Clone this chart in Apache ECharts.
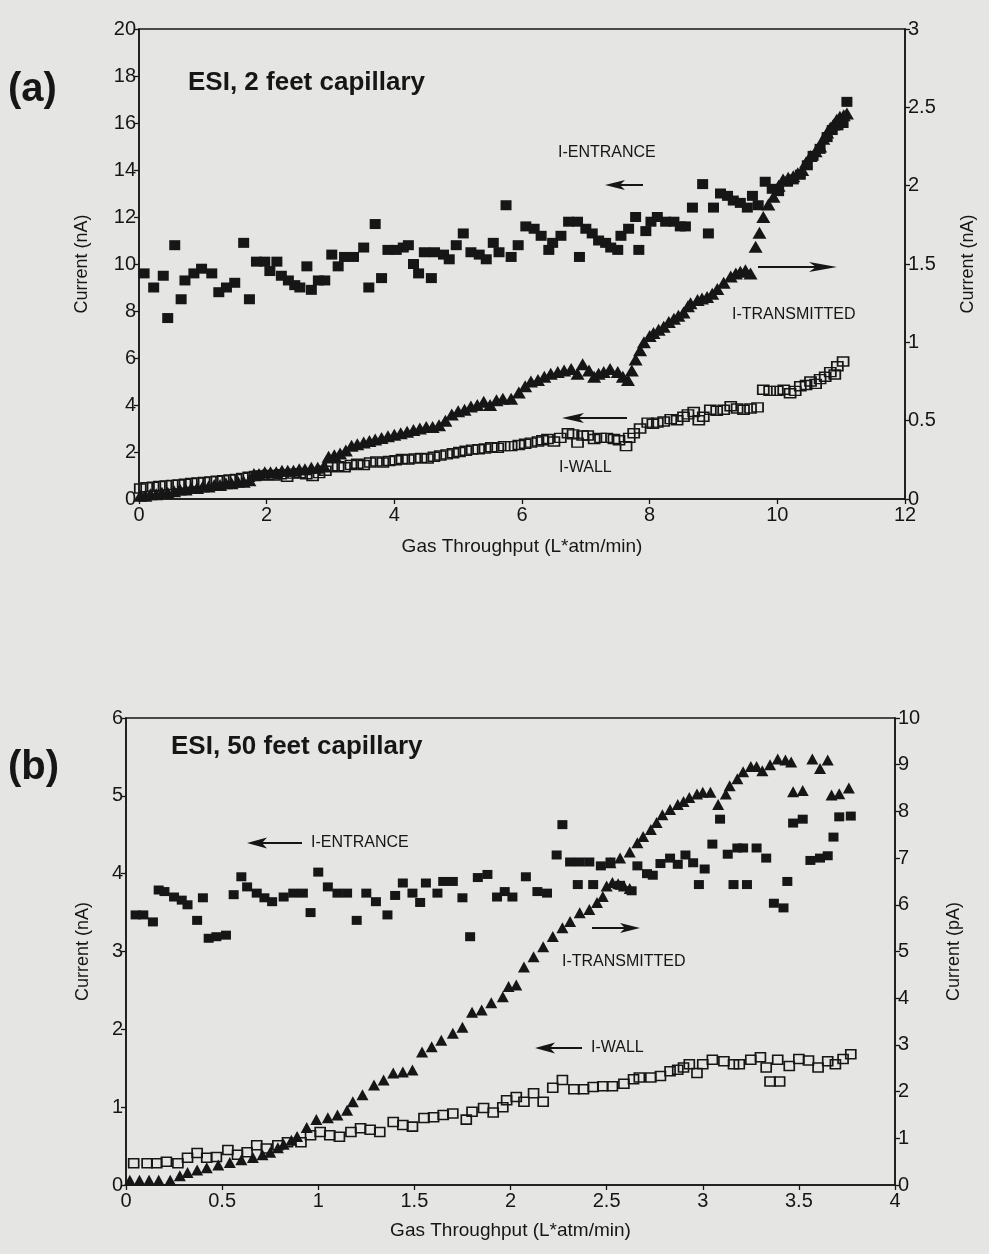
<!DOCTYPE html>
<html>
<head>
<meta charset="utf-8">
<script src="https://cdn.jsdelivr.net/npm/echarts@6/dist/echarts.min.js"></script>
<style>
  html, body { margin: 0; padding: 0; background: #e5e5e3; }
  #chart { width: 989px; height: 1254px; }
</style>
</head>
<body>
<div id="chart"></div>
<script>
// ---- panel (a): ESI, 2 feet capillary ----
// [gas throughput (L*atm/min), current]
const aEntrance = [
  [0.08,9.6],[0.23,9.0],[0.38,9.5],[0.45,7.7],[0.56,10.8],[0.66,8.5],[0.72,9.3],[0.86,9.6],[0.98,9.8],[1.14,9.6],
  [1.25,8.8],[1.37,9.0],[1.5,9.2],[1.64,10.9],[1.73,8.5],[1.84,10.1],[1.97,10.1],[2.05,9.7],[2.16,10.1],[2.23,9.5],
  [2.34,9.3],[2.44,9.1],[2.52,9.0],[2.63,9.9],[2.7,8.9],[2.81,9.3],[2.91,9.3],[3.02,10.4],[3.12,9.9],[3.22,10.3],
  [3.36,10.3],[3.52,10.7],[3.6,9.0],[3.7,11.7],[3.8,9.4],[3.9,10.6],[4.03,10.6],[4.14,10.7],[4.22,10.8],[4.3,10.0],
  [4.38,9.6],[4.47,10.5],[4.58,9.4],[4.63,10.5],[4.77,10.4],[4.86,10.2],[4.97,10.8],[5.08,11.3],[5.2,10.5],[5.33,10.4],
  [5.44,10.2],[5.55,10.9],[5.64,10.5],[5.75,12.5],[5.83,10.3],[5.94,10.8],[6.06,11.6],[6.19,11.5],[6.3,11.2],[6.42,10.6],
  [6.48,10.9],[6.61,11.2],[6.73,11.8],[6.87,11.8],[6.9,10.3],[7.0,11.5],[7.1,11.3],[7.2,11.0],[7.31,10.9],[7.39,10.7],
  [7.5,10.6],[7.55,11.2],[7.67,11.5],[7.78,12.0],[7.83,10.6],[7.94,11.4],[8.02,11.8],[8.12,12.0],[8.25,11.8],[8.38,11.8],
  [8.48,11.6],[8.56,11.6],[8.67,12.4],[8.83,13.4],[8.92,11.3],[9.0,12.4],[9.11,13.0],[9.22,12.9],[9.31,12.7],[9.42,12.6],
  [9.53,12.4],[9.61,12.9],[9.7,12.5],[9.81,13.5],[9.92,13.2],[10.02,13.1],[10.16,13.5],[10.25,13.6],[10.36,13.8],[10.47,14.2],
  [10.56,14.6],[10.67,14.9],[10.78,15.4],[10.86,15.7],[10.95,15.9],[11.03,16.0],[11.09,16.9]
];
const aTransmitted = [
  [0.02,0.02],[0.1,0.02],[0.18,0.03],[0.27,0.03],[0.36,0.04],[0.45,0.04],[0.55,0.05],[0.64,0.06],[0.73,0.06],[0.82,0.07],
  [0.91,0.07],[1.0,0.08],[1.09,0.08],[1.18,0.09],[1.27,0.09],[1.36,0.1],[1.45,0.1],[1.55,0.11],[1.64,0.11],[1.73,0.12],
  [1.8,0.16],[1.88,0.16],[1.97,0.17],[2.06,0.17],[2.15,0.17],[2.24,0.18],[2.33,0.18],[2.42,0.18],[2.51,0.19],[2.6,0.19],
  [2.7,0.2],[2.8,0.2],[2.9,0.21],[2.97,0.27],[3.06,0.28],[3.15,0.29],[3.24,0.31],[3.33,0.34],[3.42,0.35],[3.52,0.36],
  [3.61,0.37],[3.7,0.38],[3.8,0.39],[3.9,0.4],[4.0,0.41],[4.1,0.42],[4.2,0.43],[4.3,0.44],[4.4,0.45],[4.5,0.46],
  [4.6,0.46],[4.7,0.47],[4.8,0.5],[4.9,0.54],[5.0,0.56],[5.1,0.57],[5.2,0.59],[5.3,0.6],[5.4,0.62],[5.5,0.6],
  [5.6,0.63],[5.7,0.64],[5.83,0.64],[5.95,0.68],[6.05,0.72],[6.14,0.75],[6.25,0.76],[6.35,0.78],[6.45,0.8],[6.56,0.81],
  [6.66,0.82],[6.77,0.83],[6.87,0.8],[6.95,0.86],[7.05,0.82],[7.13,0.78],[7.2,0.8],[7.28,0.81],[7.38,0.83],[7.5,0.81],
  [7.58,0.78],[7.66,0.76],[7.72,0.82],[7.78,0.89],[7.85,0.95],[7.91,1.0],[8.0,1.04],[8.06,1.06],[8.14,1.08],[8.22,1.1],
  [8.3,1.13],[8.38,1.15],[8.45,1.17],[8.53,1.19],[8.6,1.23],[8.64,1.25],[8.75,1.27],[8.82,1.28],[8.9,1.29],[8.98,1.31],
  [9.06,1.34],[9.16,1.38],[9.27,1.42],[9.35,1.44],[9.42,1.45],[9.5,1.46],[9.58,1.44],[9.66,1.61],[9.72,1.7],[9.78,1.8],
  [9.86,1.88],[9.94,1.93],[10.02,2.0],[10.09,2.04],[10.17,2.05],[10.25,2.06],[10.32,2.08],[10.39,2.1],[10.45,2.15],[10.52,2.19],
  [10.6,2.22],[10.67,2.25],[10.72,2.3],[10.78,2.34],[10.83,2.37],[10.88,2.39],[10.93,2.42],[10.98,2.44],[11.04,2.45],[11.09,2.46]
];
const aWall = [
  [0.02,0.45],[0.12,0.5],[0.22,0.52],[0.32,0.55],[0.42,0.58],[0.52,0.6],[0.62,0.62],[0.72,0.65],[0.82,0.68],[0.92,0.7],
  [1.02,0.72],[1.12,0.75],[1.22,0.78],[1.32,0.8],[1.42,0.83],[1.52,0.85],[1.62,0.9],[1.72,0.95],[1.82,0.98],[1.92,1.0],
  [2.02,1.02],[2.12,1.0],[2.22,1.05],[2.32,0.95],[2.42,1.08],[2.52,1.1],[2.62,1.05],[2.72,0.98],[2.82,1.1],[2.92,1.2],
  [3.02,1.35],[3.12,1.4],[3.22,1.35],[3.32,1.45],[3.42,1.5],[3.52,1.45],[3.62,1.55],[3.72,1.6],[3.82,1.55],[3.92,1.62],
  [4.02,1.65],[4.12,1.7],[4.22,1.68],[4.32,1.72],[4.42,1.75],[4.52,1.72],[4.62,1.8],[4.72,1.85],[4.82,1.9],[4.92,1.95],
  [5.02,2.0],[5.12,2.05],[5.22,2.1],[5.32,2.12],[5.42,2.15],[5.52,2.2],[5.62,2.18],[5.72,2.25],[5.83,2.25],[5.95,2.3],
  [6.05,2.35],[6.14,2.4],[6.25,2.45],[6.32,2.5],[6.4,2.55],[6.5,2.45],[6.6,2.6],[6.72,2.8],[6.8,2.75],[6.87,2.4],
  [6.95,2.7],[7.03,2.7],[7.13,2.55],[7.23,2.6],[7.33,2.6],[7.44,2.55],[7.52,2.5],[7.63,2.25],[7.68,2.6],[7.75,2.8],
  [7.85,3.0],[7.97,3.25],[8.05,3.2],[8.12,3.25],[8.22,3.3],[8.33,3.4],[8.43,3.35],[8.53,3.5],[8.6,3.6],[8.69,3.7],
  [8.77,3.35],[8.84,3.5],[8.95,3.8],[9.05,3.75],[9.16,3.8],[9.27,3.95],[9.37,3.85],[9.47,3.8],[9.58,3.85],[9.69,3.9],
  [9.78,4.65],[9.88,4.6],[10.0,4.6],[10.1,4.65],[10.2,4.5],[10.28,4.6],[10.36,4.8],[10.45,4.85],[10.52,5.0],[10.6,4.9],
  [10.67,5.1],[10.75,5.2],[10.83,5.4],[10.9,5.3],[10.94,5.65],[11.03,5.85]
];

// ---- panel (b): ESI, 50 feet capillary ----
const bEntrance = [
  [0.05,3.47],[0.09,3.47],[0.14,3.38],[0.17,3.79],[0.2,3.77],[0.25,3.7],[0.29,3.66],[0.32,3.6],[0.37,3.4],[0.4,3.69],
  [0.43,3.17],[0.47,3.19],[0.52,3.21],[0.56,3.73],[0.6,3.96],[0.63,3.83],[0.68,3.75],[0.72,3.69],[0.76,3.64],[0.82,3.7],
  [0.87,3.75],[0.92,3.75],[0.96,3.5],[1.0,4.02],[1.05,3.83],[1.1,3.75],[1.15,3.75],[1.2,3.4],[1.25,3.75],[1.3,3.64],
  [1.36,3.47],[1.4,3.72],[1.44,3.88],[1.49,3.75],[1.53,3.63],[1.56,3.88],[1.62,3.75],[1.65,3.9],[1.7,3.9],[1.75,3.69],
  [1.79,3.19],[1.83,3.95],[1.88,3.99],[1.93,3.7],[1.97,3.77],[2.01,3.7],[2.08,3.96],[2.14,3.77],[2.19,3.75],[2.24,4.24],
  [2.27,4.63],[2.31,4.15],[2.35,3.86],[2.36,4.15],[2.41,4.15],[2.43,3.86],[2.47,4.1],[2.52,4.15],[2.57,3.85],[2.63,3.78],
  [2.66,4.1],[2.71,4.0],[2.74,3.98],[2.78,4.13],[2.83,4.2],[2.87,4.12],[2.91,4.24],[2.95,4.14],[2.98,3.86],[3.01,4.06],
  [3.05,4.38],[3.09,4.7],[3.13,4.25],[3.16,3.86],[3.18,4.33],[3.21,4.33],[3.23,3.86],[3.28,4.33],[3.33,4.2],[3.37,3.62],
  [3.42,3.56],[3.44,3.9],[3.47,4.65],[3.52,4.7],[3.56,4.17],[3.61,4.2],[3.65,4.23],[3.68,4.47],[3.71,4.73],[3.77,4.74]
];
const bTransmitted = [
  [0.02,0.1],[0.07,0.1],[0.12,0.1],[0.17,0.1],[0.23,0.1],[0.28,0.2],[0.32,0.27],[0.37,0.32],[0.42,0.37],[0.48,0.43],
  [0.54,0.48],[0.6,0.54],[0.66,0.59],[0.71,0.65],[0.75,0.7],[0.79,0.8],[0.82,0.87],[0.86,0.96],[0.89,1.04],[0.94,1.23],
  [0.99,1.4],[1.05,1.44],[1.1,1.5],[1.15,1.6],[1.18,1.78],[1.23,1.93],[1.29,2.14],[1.34,2.25],[1.39,2.4],[1.44,2.42],
  [1.49,2.46],[1.54,2.85],[1.59,2.96],[1.64,3.1],[1.7,3.25],[1.75,3.38],[1.8,3.7],[1.85,3.75],[1.9,3.9],[1.96,4.03],
  [1.99,4.25],[2.03,4.28],[2.07,4.67],[2.12,4.89],[2.17,5.1],[2.22,5.32],[2.27,5.51],[2.31,5.64],[2.36,5.83],[2.41,5.9],
  [2.45,6.05],[2.48,6.18],[2.5,6.4],[2.53,6.48],[2.56,6.45],[2.59,6.4],[2.62,6.35],[2.52,6.9],[2.57,7.0],[2.62,7.13],
  [2.66,7.33],[2.69,7.46],[2.73,7.61],[2.76,7.76],[2.79,7.93],[2.83,8.04],[2.87,8.15],[2.9,8.21],[2.93,8.3],[2.97,8.37],
  [3.0,8.41],[3.04,8.41],[3.08,8.15],[3.12,8.37],[3.14,8.55],[3.18,8.7],[3.21,8.85],[3.25,8.96],[3.28,8.96],[3.31,8.87],
  [3.35,9.0],[3.39,9.12],[3.43,9.1],[3.46,9.06],[3.47,8.42],[3.52,8.45],[3.57,9.12],[3.61,8.92],[3.65,9.1],[3.67,8.35],
  [3.71,8.38],[3.76,8.5]
];
const bWall = [
  [0.04,0.28],[0.11,0.28],[0.16,0.28],[0.21,0.3],[0.27,0.28],[0.32,0.35],[0.37,0.41],[0.42,0.35],[0.47,0.36],[0.53,0.45],
  [0.58,0.39],[0.63,0.42],[0.68,0.51],[0.73,0.47],[0.79,0.51],[0.84,0.55],[0.91,0.55],[0.96,0.64],[1.01,0.68],[1.06,0.64],
  [1.11,0.62],[1.17,0.68],[1.22,0.73],[1.27,0.71],[1.32,0.68],[1.39,0.81],[1.44,0.77],[1.49,0.75],[1.55,0.86],[1.6,0.87],
  [1.65,0.9],[1.7,0.92],[1.77,0.84],[1.8,0.94],[1.86,0.99],[1.91,0.93],[1.96,1.0],[1.98,1.09],[2.03,1.13],[2.07,1.07],
  [2.12,1.18],[2.17,1.07],[2.22,1.25],[2.27,1.35],[2.33,1.23],[2.38,1.23],[2.43,1.26],[2.48,1.27],[2.53,1.27],[2.59,1.3],
  [2.64,1.36],[2.67,1.38],[2.73,1.38],[2.78,1.4],[2.83,1.46],[2.87,1.48],[2.9,1.51],[2.93,1.55],[2.97,1.44],[3.0,1.55],
  [3.05,1.61],[3.11,1.59],[3.16,1.55],[3.19,1.55],[3.25,1.61],[3.3,1.64],[3.33,1.51],[3.39,1.61],[3.35,1.33],[3.4,1.33],
  [3.45,1.53],[3.5,1.62],[3.55,1.6],[3.6,1.51],[3.65,1.59],[3.69,1.55],[3.73,1.62],[3.77,1.68]
];

// axis ranges
const aX = { min: 0, max: 12, interval: 2 };
const aYLeft = { min: 0, max: 20, interval: 2 };
const aYRight = { min: 0, max: 3, interval: 0.5 };
const bX = { min: 0, max: 4, interval: 0.5 };
const bYLeft = { min: 0, max: 6, interval: 1 };
const bYRight = { min: 0, max: 10, interval: 1 };

const INK = '#161616';
const FONT = '"Liberation Sans", Arial, sans-serif';

const chart = echarts.init(document.getElementById('chart'));

function xAxis(gridIndex, r, nameGap) {
  return {
    type: 'value', gridIndex, min: r.min, max: r.max, interval: r.interval,
    name: 'Gas Throughput (L*atm/min)', nameLocation: 'middle', nameGap,
    nameTextStyle: { color: INK, fontSize: 19, fontFamily: FONT },
    axisLine: { lineStyle: { color: INK, width: 1.5 } },
    axisTick: { inside: false, length: 5, lineStyle: { color: INK, width: 1.3 } },
    axisLabel: { color: INK, fontSize: 20, fontFamily: FONT, margin: 6 },
    splitLine: { show: false }
  };
}
function yAxis(gridIndex, r, position, name, nameGap) {
  return {
    type: 'value', gridIndex, position, min: r.min, max: r.max, interval: r.interval,
    name, nameLocation: 'middle', nameGap, nameRotate: 90,
    nameTextStyle: { color: INK, fontSize: 18, fontFamily: FONT },
    axisLine: { show: true, lineStyle: { color: INK, width: 1.5 } },
    axisTick: { inside: false, length: 5, lineStyle: { color: INK, width: 1.3 } },
    axisLabel: { color: INK, fontSize: 20, fontFamily: FONT, margin: 3 },
    splitLine: { show: false }
  };
}

function arrow(tail, tip, y, headLen, headH) {
  const d = tip > tail ? 1 : -1;
  return [
    { type: 'line', shape: { x1: tail, y1: y, x2: tip - d * headLen * 0.6, y2: y },
      style: { stroke: INK, lineWidth: 2 } },
    { type: 'polygon',
      shape: { points: [[tip, y], [tip - d * headLen, y - headH / 2], [tip - d * headLen * 0.75, y], [tip - d * headLen, y + headH / 2]] },
      style: { fill: INK } }
  ];
}
function label(text, x, y, size) {
  return { type: 'text', x, y,
    style: { text, fill: INK, font: (size || 15) + 'px ' + FONT, textVerticalAlign: 'middle' } };
}
function title(text, x, y, size) {
  return { type: 'text', x, y,
    style: { text, fill: INK, font: 'bold ' + size + 'px ' + FONT, textVerticalAlign: 'middle' } };
}

const filledSquare = (data, xi, yi, size) => ({
  type: 'scatter', xAxisIndex: xi, yAxisIndex: yi, data, symbol: 'rect', symbolSize: size,
  itemStyle: { color: INK, opacity: 1 }, silent: true
});
const triangle = (data, xi, yi, size) => ({
  type: 'scatter', xAxisIndex: xi, yAxisIndex: yi, data, symbol: 'triangle', symbolSize: size,
  itemStyle: { color: INK, opacity: 1 }, silent: true
});
const openSquare = (data, xi, yi, size) => ({
  type: 'scatter', xAxisIndex: xi, yAxisIndex: yi, data, symbol: 'rect', symbolSize: size,
  itemStyle: { color: 'rgba(0,0,0,0)', borderColor: INK, borderWidth: 1.6, opacity: 1 }, silent: true
});

chart.setOption({
  backgroundColor: '#e5e5e3',
  animation: false,
  grid: [
    { left: 139, top: 29, width: 766, height: 470, show: true, borderColor: INK, borderWidth: 1.5, backgroundColor: 'transparent' },
    { left: 126, top: 718, width: 769, height: 467, show: true, borderColor: INK, borderWidth: 1.5, backgroundColor: 'transparent' }
  ],
  xAxis: [ xAxis(0, aX, 38), xAxis(1, bX, 36) ],
  yAxis: [
    yAxis(0, aYLeft, 'left', 'Current (nA)', 48),
    yAxis(0, aYRight, 'right', 'Current (nA)', 54),
    yAxis(1, bYLeft, 'left', 'Current (nA)', 34),
    yAxis(1, bYRight, 'right', 'Current (pA)', 50)
  ],
  series: [
    filledSquare(aEntrance, 0, 0, [11, 10]),
    triangle(aTransmitted, 0, 1, [14, 12]),
    openSquare(aWall, 0, 0, [11, 9]),
    filledSquare(bEntrance, 1, 2, [10, 9]),
    triangle(bTransmitted, 1, 3, [12, 11]),
    openSquare(bWall, 1, 2, [10, 9])
  ],
  graphic: [
    title('(a)', 8, 90, 40),
    title('ESI, 2 feet capillary', 188, 83, 26),
    title('(b)', 8, 768, 40),
    title('ESI, 50 feet capillary', 171, 747, 26),
    label('I-ENTRANCE', 558, 153, 16),
    ...arrow(643, 605, 185, 20, 10),
    ...arrow(758, 837, 267, 28, 10),
    label('I-TRANSMITTED', 732, 315, 16),
    ...arrow(627, 562, 418, 22, 10),
    label('I-WALL', 559, 468, 16),
    ...arrow(302, 247, 843, 20, 11),
    label('I-ENTRANCE', 311, 843, 16),
    ...arrow(592, 640, 928, 20, 10),
    label('I-TRANSMITTED', 562, 962, 16),
    ...arrow(582, 535, 1048, 20, 11),
    label('I-WALL', 591, 1048, 16)
  ]
});
</script>
</body>
</html>
